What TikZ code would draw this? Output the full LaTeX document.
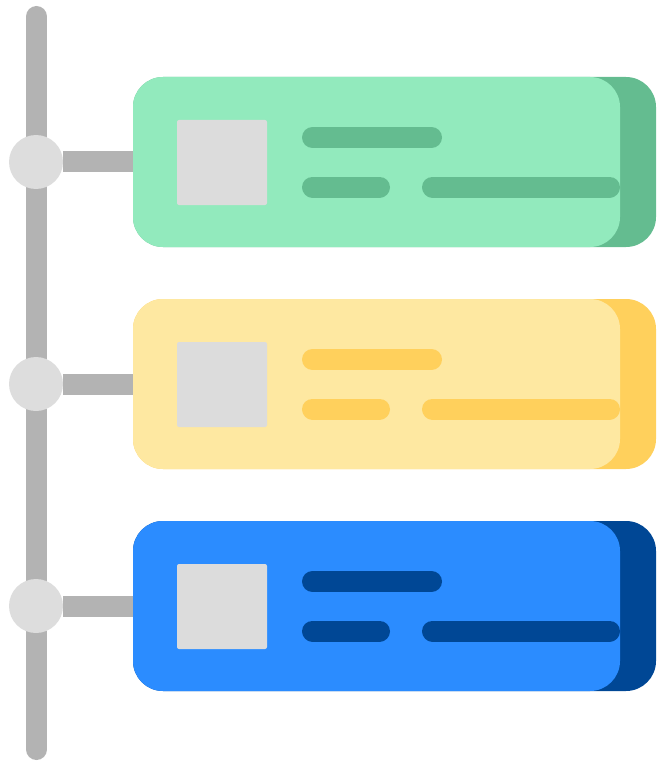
\documentclass[tikz,border=0pt]{standalone}
\usetikzlibrary{positioning}
\definecolor{greenL}{RGB}{146,234,189}
\definecolor{greenD}{RGB}{100,188,144}
\definecolor{yelL}{RGB}{254,232,161}
\definecolor{yelD}{RGB}{255,208,92}
\definecolor{blueL}{RGB}{43,140,255}
\definecolor{blueD}{RGB}{0,71,149}
\definecolor{barGray}{RGB}{179,179,179}
\definecolor{dotGray}{RGB}{221,221,221}
\definecolor{boxGray}{RGB}{220,220,220}
\tikzset{
  stem/.style={barGray,line width=21pt},
  dot/.style={circle,fill=dotGray,minimum size=54pt,inner sep=0pt},
  card/.style={rectangle,rounded corners=30pt,minimum width=487pt,minimum height=170pt,inner sep=0pt},
  thumb/.style={rectangle,rounded corners=2pt,fill=boxGray,minimum width=90pt,minimum height=85pt,inner sep=0pt},
  textline/.style={line width=21pt,line cap=round}
}
\begin{document}
\begin{tikzpicture}[x=1pt,y=-1pt]
  \useasboundingbox (0,0) rectangle (656,762);
  % spine
  \coordinate (top) at (36.5,16.5);
  \coordinate (bot) at (36.5,749.5);
  \draw[stem,line cap=round] (top)--(bot);
  % three rows
  \foreach \i/\lite/\dark in {0/greenL/greenD,1/yelL/yelD,2/blueL/blueD} {
    \begin{scope}[yshift=-222*\i]
      \fill[\dark,rounded corners=30pt] (133,77) rectangle (656,247);
      \node[card,fill=\lite] (card\i) at (376.5,162) {};
      \node[dot] (dot\i) at (36,162) {};
      \draw[stem] (dot\i.east)--(card\i.west);
      \node[thumb] (thumb\i) at (222,162.5) {};
      \draw[textline,\dark] (312.5,137.5)--(431.5,137.5);
      \draw[textline,\dark] (312.5,187)--(379.5,187);
      \draw[textline,\dark] (432.5,187)--(609.5,187);
    \end{scope}
  }
\end{tikzpicture}
\end{document}
